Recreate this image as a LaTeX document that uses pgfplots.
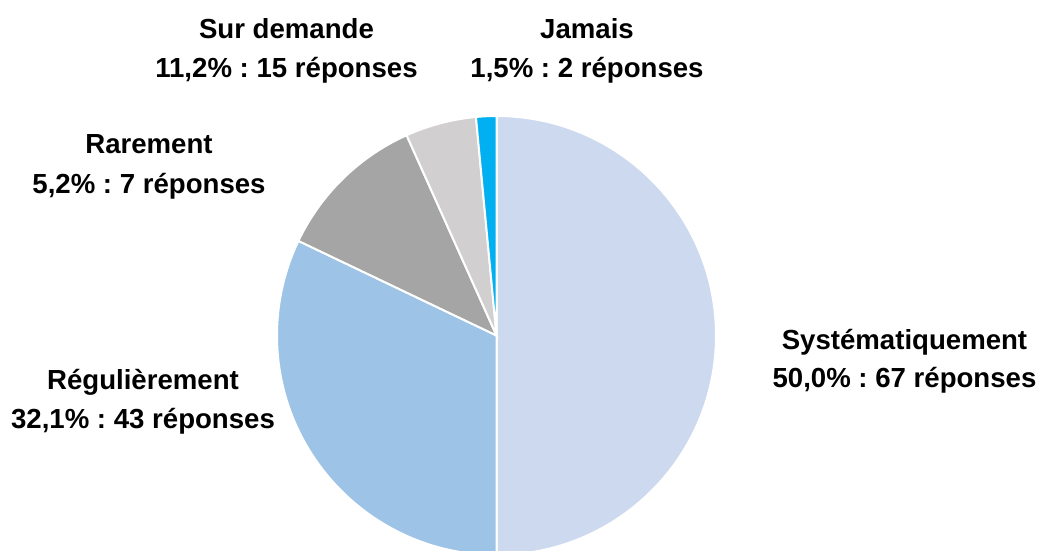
\documentclass[border=0pt]{standalone}
\usepackage{pgfplots}
\pgfplotsset{compat=1.18}
\usepackage{fontspec}
\setmainfont{Liberation Sans}
\frenchspacing
\definecolor{csyst}{HTML}{CCD9EE}
\definecolor{creg}{HTML}{9DC3E6}
\definecolor{csur}{HTML}{A5A5A5}
\definecolor{crar}{HTML}{D1CFD0}
\definecolor{cjam}{HTML}{00B0F0}
\tikzset{lbl/.style={font=\fontsize{13.8}{16}\selectfont\bfseries, anchor=base, inner sep=0pt}}

% slice: #1 = responses before it, #2 = responses in it (134 in all)
\newcommand{\slice}[3]{%
  \fill[#3, draw=white, line width=1pt] (axis cs:496.5,215.5)
    -- ++({90-#1/134*360}:109.75pt)
    arc[start angle={90-#1/134*360}, end angle={90-(#1+#2)/134*360}, radius=109.75pt]
    -- cycle;
}

\begin{document}
\begin{tikzpicture}
\begin{axis}[scale only axis, width=520.5pt, height=275.5pt,
  xmin=0, xmax=1041, ymin=0, ymax=551, hide axis, clip=true]
\slice{0}{67}{csyst}
\slice{67}{43}{creg}
\slice{110}{15}{csur}
\slice{125}{7}{crar}
\slice{132}{2}{cjam}
\node[lbl] at (axis cs:286.5,512) {Sur demande};
\node[lbl] at (axis cs:286.5,473) {11,2\% : 15 réponses};
\node[lbl] at (axis cs:587,512) {Jamais};
\node[lbl] at (axis cs:587,473) {1,5\% : 2 réponses};
\node[lbl] at (axis cs:149,397) {Rarement};
\node[lbl] at (axis cs:149,357) {5,2\% : 7 réponses};
\node[lbl] at (axis cs:143,161) {Régulièrement};
\node[lbl] at (axis cs:143,122) {32,1\% : 43 réponses};
\node[lbl] at (axis cs:904.5,201) {Systématiquement};
\node[lbl] at (axis cs:904.5,163) {50,0\% : 67 réponses};
\end{axis}
\pgfresetboundingbox
\useasboundingbox (current axis.south west) rectangle (current axis.north east);
\end{tikzpicture}
\end{document}
